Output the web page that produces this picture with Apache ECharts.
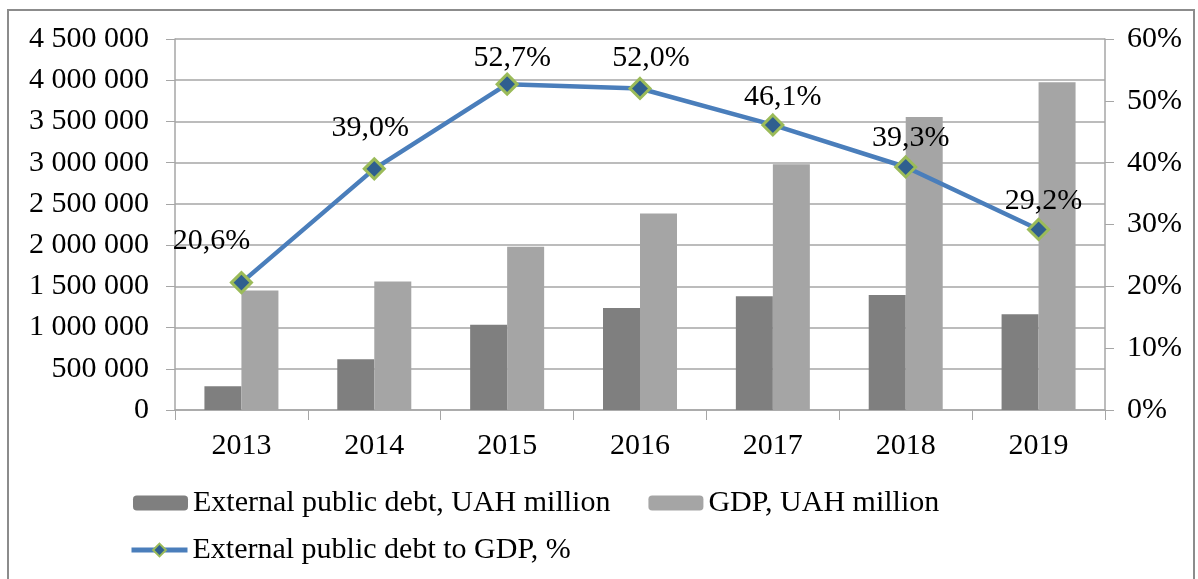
<!DOCTYPE html>
<html>
<head>
<meta charset="utf-8">
<script src="https://cdn.jsdelivr.net/npm/echarts@6/dist/echarts.min.js"></script>
<style>
  html, body { margin: 0; padding: 0; background: #fff; }
  #chart { width: 1198px; height: 579px; }
</style>
</head>
<body>
<div id="chart"></div>
<script>
// 数据：外债、GDP（百万格里夫纳）与外债/GDP 比率
const years = ['2013', '2014', '2015', '2016', '2017', '2018', '2019'];
const debtValues = [288000, 615000, 1035000, 1238000, 1380000, 1396000, 1161000];
const gdpValues = [1450000, 1560000, 1980000, 2383000, 2982000, 3555000, 3974000];
const ratioValues = [20.6, 39.0, 52.7, 52.0, 46.1, 39.3, 29.2];

// 标签微调（样式，不是数据）
const labelShift = [[-30, -13], [-4, -12], [5, 2], [11, -2], [10, 1], [5, 0], [5, 0]];

const font = '"Liberation Serif", "Times New Roman", serif';
const gridGray = '#a6a6a6';
const fs = 30;

function spaced(v) {
  return String(v).replace(/\B(?=(\d{3})+(?!\d))/g, ' ');
}

const chart = echarts.init(document.getElementById('chart'));
chart.setOption({
  animation: false,
  textStyle: { fontFamily: font, color: '#000' },
  graphic: [{
    type: 'rect',
    shape: { x: 8, y: 10, width: 1186, height: 620 },
    style: { fill: 'none', stroke: '#8c8c8c', lineWidth: 2 },
  }],
  grid: { left: 175, right: 93, top: 39, bottom: 169 },
  legend: [{
    left: 128, top: 483,
    itemWidth: 55, itemHeight: 15, itemGap: 38,
    textStyle: { fontFamily: font, fontSize: fs, color: '#000' },
    data: ['External public debt, UAH million', 'GDP, UAH million'],
  }, {
    left: 124, top: 530,
    itemWidth: 56, itemHeight: 16,
    lineStyle: { width: 5 },
    textStyle: { fontFamily: font, fontSize: fs, color: '#000' },
    data: ['External public debt to GDP, %'],
  }],
  xAxis: {
    type: 'category',
    data: years,
    axisLine: { lineStyle: { color: gridGray, width: 1.5 } },
    axisTick: { show: true, length: 10, lineStyle: { color: gridGray } },
    axisLabel: { fontFamily: font, fontSize: fs, color: '#000', margin: 21 },
  },
  yAxis: [{
    type: 'value',
    min: 0, max: 4500000, interval: 500000,
    axisLine: { show: true, lineStyle: { color: gridGray, width: 1.5 } },
    axisTick: { show: true, length: 9, lineStyle: { color: gridGray } },
    splitLine: { lineStyle: { color: gridGray, width: 1.5 } },
    axisLabel: { fontFamily: font, fontSize: fs, color: '#000', margin: 26, formatter: v => spaced(v) },
  }, {
    type: 'value',
    min: 0, max: 60, interval: 10,
    axisLine: { show: true, lineStyle: { color: gridGray, width: 1.5 } },
    axisTick: { show: true, length: 9, lineStyle: { color: gridGray } },
    splitLine: { show: false },
    axisLabel: { fontFamily: font, fontSize: fs, color: '#000', margin: 22, formatter: '{value}%' },
  }],
  series: [{
    name: 'External public debt, UAH million',
    type: 'bar',
    data: debtValues,
    barWidth: 37,
    barGap: '0%',
    itemStyle: { color: '#7f7f7f' },
  }, {
    name: 'GDP, UAH million',
    type: 'bar',
    data: gdpValues,
    barWidth: 37,
    itemStyle: { color: '#a5a5a5' },
  }, {
    name: 'External public debt to GDP, %',
    type: 'line',
    yAxisIndex: 1,
    data: ratioValues.map((v, i) => ({
      value: v,
      label: { offset: labelShift[i] },
    })),
    symbol: 'diamond',
    symbolSize: 20,
    lineStyle: { color: '#4a7ebb', width: 4.5 },
    itemStyle: { color: '#2f5f8f', borderColor: '#9bbb59', borderWidth: 3 },
    label: {
      show: true,
      position: 'top',
      distance: 2,
      fontFamily: font,
      fontSize: fs,
      color: '#000',
      formatter: p => p.value.toFixed(1).replace('.', ',') + '%',
    },
    z: 5,
  }],
});
</script>
</body>
</html>
